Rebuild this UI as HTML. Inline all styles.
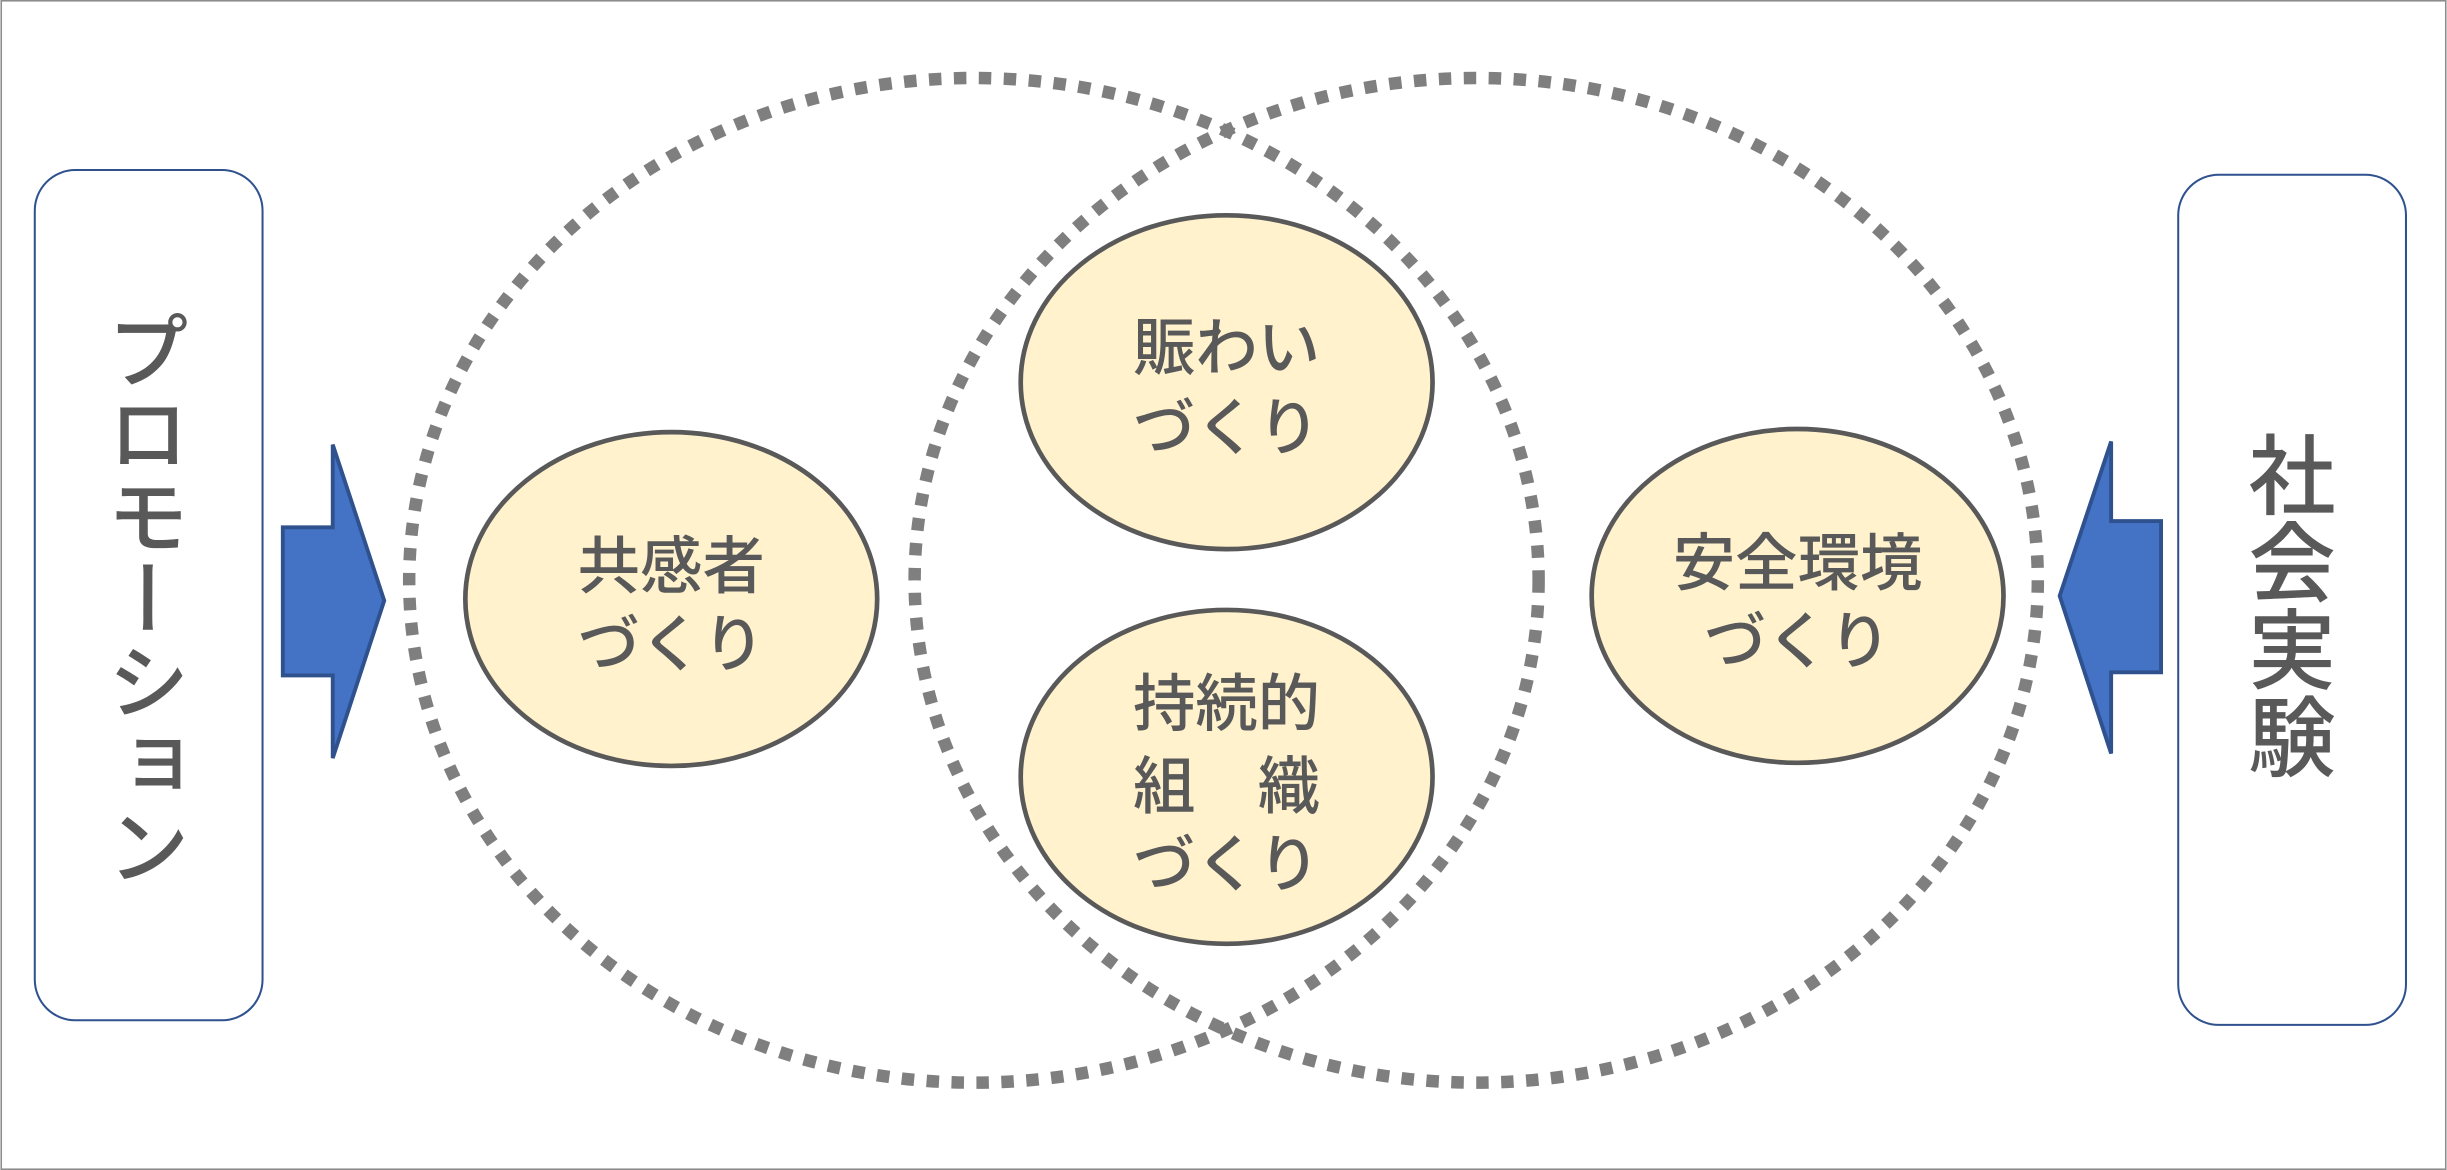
<!DOCTYPE html>
<html><head><meta charset="utf-8"><style>
html,body{margin:0;padding:0;background:#fff;}
svg{display:block;}
text{font-family:"Noto Sans CJK JP",sans-serif;fill:#595959;font-weight:500;}
</style></head><body>
<svg width="2447" height="1170" viewBox="0 0 1568 750" xmlns="http://www.w3.org/2000/svg">
<rect x="0.5" y="0.5" width="1567" height="749" fill="#fff" stroke="#8c8c8c" stroke-width="1"/>
<rect x="22" y="109" width="146" height="545" rx="26" fill="#fff" stroke="#2f528f" stroke-width="1.3"/>
<rect x="1396" y="112" width="146" height="545" rx="26" fill="#fff" stroke="#2f528f" stroke-width="1.3"/>
<ellipse cx="624" cy="372" rx="362" ry="322" fill="none" stroke="#7f7f7f" stroke-width="8" stroke-dasharray="8 8"/>
<ellipse cx="946" cy="372" rx="360" ry="322" fill="none" stroke="#7f7f7f" stroke-width="8" stroke-dasharray="8 8"/>
<g fill="#fff2cc" stroke="#595959" stroke-width="3">
<ellipse cx="430" cy="384" rx="132" ry="107"/>
<ellipse cx="786" cy="245" rx="132" ry="107"/>
<ellipse cx="786" cy="498" rx="132" ry="107"/>
<ellipse cx="1152" cy="382" rx="132" ry="107"/>
</g>
<polygon points="181,338 213,338 213,285 246,385 213,486 213,433 181,433" fill="#4472c4" stroke="#2f528f" stroke-width="2.5"/>
<polygon points="1385,334 1353,334 1353,283 1320,382 1353,483 1353,431 1385,431" fill="#4472c4" stroke="#2f528f" stroke-width="2.5"/>
<g font-size="40" text-anchor="middle">
<text x="430" y="377">共感者</text><text x="430" y="427">づくり</text>
<text x="786" y="237">賑わい</text><text x="786" y="288">づくり</text>
<text x="786" y="465">持続的</text><text x="786" y="518">組　織</text><text x="786" y="568">づくり</text>
<text x="1152" y="375">安全環境</text><text x="1152" y="425">づくり</text>
</g>
<text x="95" y="198" font-size="53" style="writing-mode:vertical-rl" text-anchor="start">プロモーション</text>
<text x="1469" y="276" font-size="56" style="writing-mode:vertical-rl" text-anchor="start">社会実験</text>
</svg>
</body></html>
